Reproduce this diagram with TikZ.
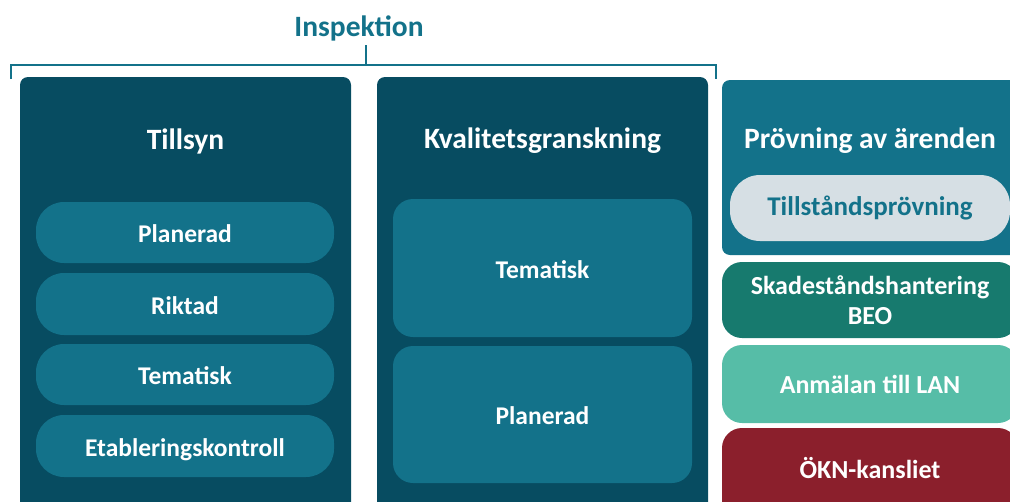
\documentclass[tikz,border=0pt]{standalone}
\usepackage{fontspec}
\setmainfont{Carlito}
\definecolor{darkteal}{HTML}{074C61}
\definecolor{midteal}{HTML}{13728A}
\definecolor{paleblue}{HTML}{D6DFE4}
\definecolor{darkgreen}{HTML}{177A6E}
\definecolor{mint}{HTML}{56BDA7}
\definecolor{wine}{HTML}{8B1F2C}
\tikzset{
	area/.style={fill=darkteal, rounded corners=8pt, inner sep=0pt},
	title/.style={text=white, font=\bfseries\fontsize{29.5}{34}\selectfont},
	item/.style={fill=midteal, rounded corners=28pt, inner sep=0pt, text=white, text height=22pt, text depth=2pt, font=\bfseries\fontsize{25.5}{30}\selectfont},
	side/.style={rounded corners=20pt, inner sep=0pt, text=white, align=center, minimum width=296pt, font=\bfseries\fontsize{26}{30}\selectfont}
}
\begin{document}
\begin{tikzpicture}[x=1pt,y=-1pt]
	\useasboundingbox (0,0) rectangle (1010,501);
	\clip (0,0) rectangle (1010,501);

	% bracket
	\node[text=midteal, font=\bfseries\fontsize{29.5}{34}\selectfont] (insp) at (359,28) {Inspektion};
	\coordinate (bl) at (11,79);
	\coordinate (br) at (716,79);
	\coordinate (bt) at (366,45);
	\draw[midteal, line width=2pt] (bl) |- (br |- 0,65) -- (br);
	\draw[midteal, line width=2pt] (bt) -- (bt |- 0,65);

	% tillsyn
	\node[area, minimum width=331pt, minimum height=463pt] (tillsyn) at (185.5,308.5) {};
	\node[title] (tillsynT) at (185.5,141) {Tillsyn};
	\node[item, minimum width=298pt, minimum height=61pt] (t1) at (185,232.5) {Planerad};
	\node[item, minimum width=298pt, minimum height=62pt] (t2) at (185,304) {Riktad};
	\node[item, minimum width=298pt, minimum height=61pt] (t3) at (185,374.5) {Tematisk};
	\node[item, minimum width=298pt, minimum height=62pt] (t4) at (185,446) {Etableringskontroll};

	% kvalitetsgranskning
	\node[area, minimum width=331pt, minimum height=463pt] (kval) at (542.5,308.5) {};
	\node[title] (kvalT) at (542.5,141) {Kvalitetsgranskning};
	\node[item, rounded corners=20pt, minimum width=299pt, minimum height=138pt] (k1) at (542.5,268) {Tematisk};
	\node[item, rounded corners=20pt, minimum width=299pt, minimum height=137pt] (k2) at (542.5,414.5) {Planerad};

	% provning
	\node[fill=midteal, rounded corners=8pt, inner sep=0pt, minimum width=296pt, minimum height=175pt] (prov) at (870,167.5) {};
	\node[title] (provT) at (870,141) {Prövning av ärenden};
	\node[fill=paleblue, rounded corners=30pt, inner sep=0pt, minimum width=280pt, minimum height=66pt, text=midteal, font=\bfseries\fontsize{27}{32}\selectfont] (tillst) at (870,208) {Tillståndsprövning};

	% other
	\node[side, fill=darkgreen, minimum height=76pt] (skad) at (870,300) {Skadeståndshantering\\BEO};
	\node[side, fill=mint, minimum height=78pt] (anm) at (870,384) {Anmälan till LAN};
	\node[side, fill=wine, minimum height=100pt] (okn) at (870,478) {};
	\node[text=white, font=\bfseries\fontsize{26}{30}\selectfont] (oknT) at (870,468) {ÖKN-kansliet};
\end{tikzpicture}
\end{document}
